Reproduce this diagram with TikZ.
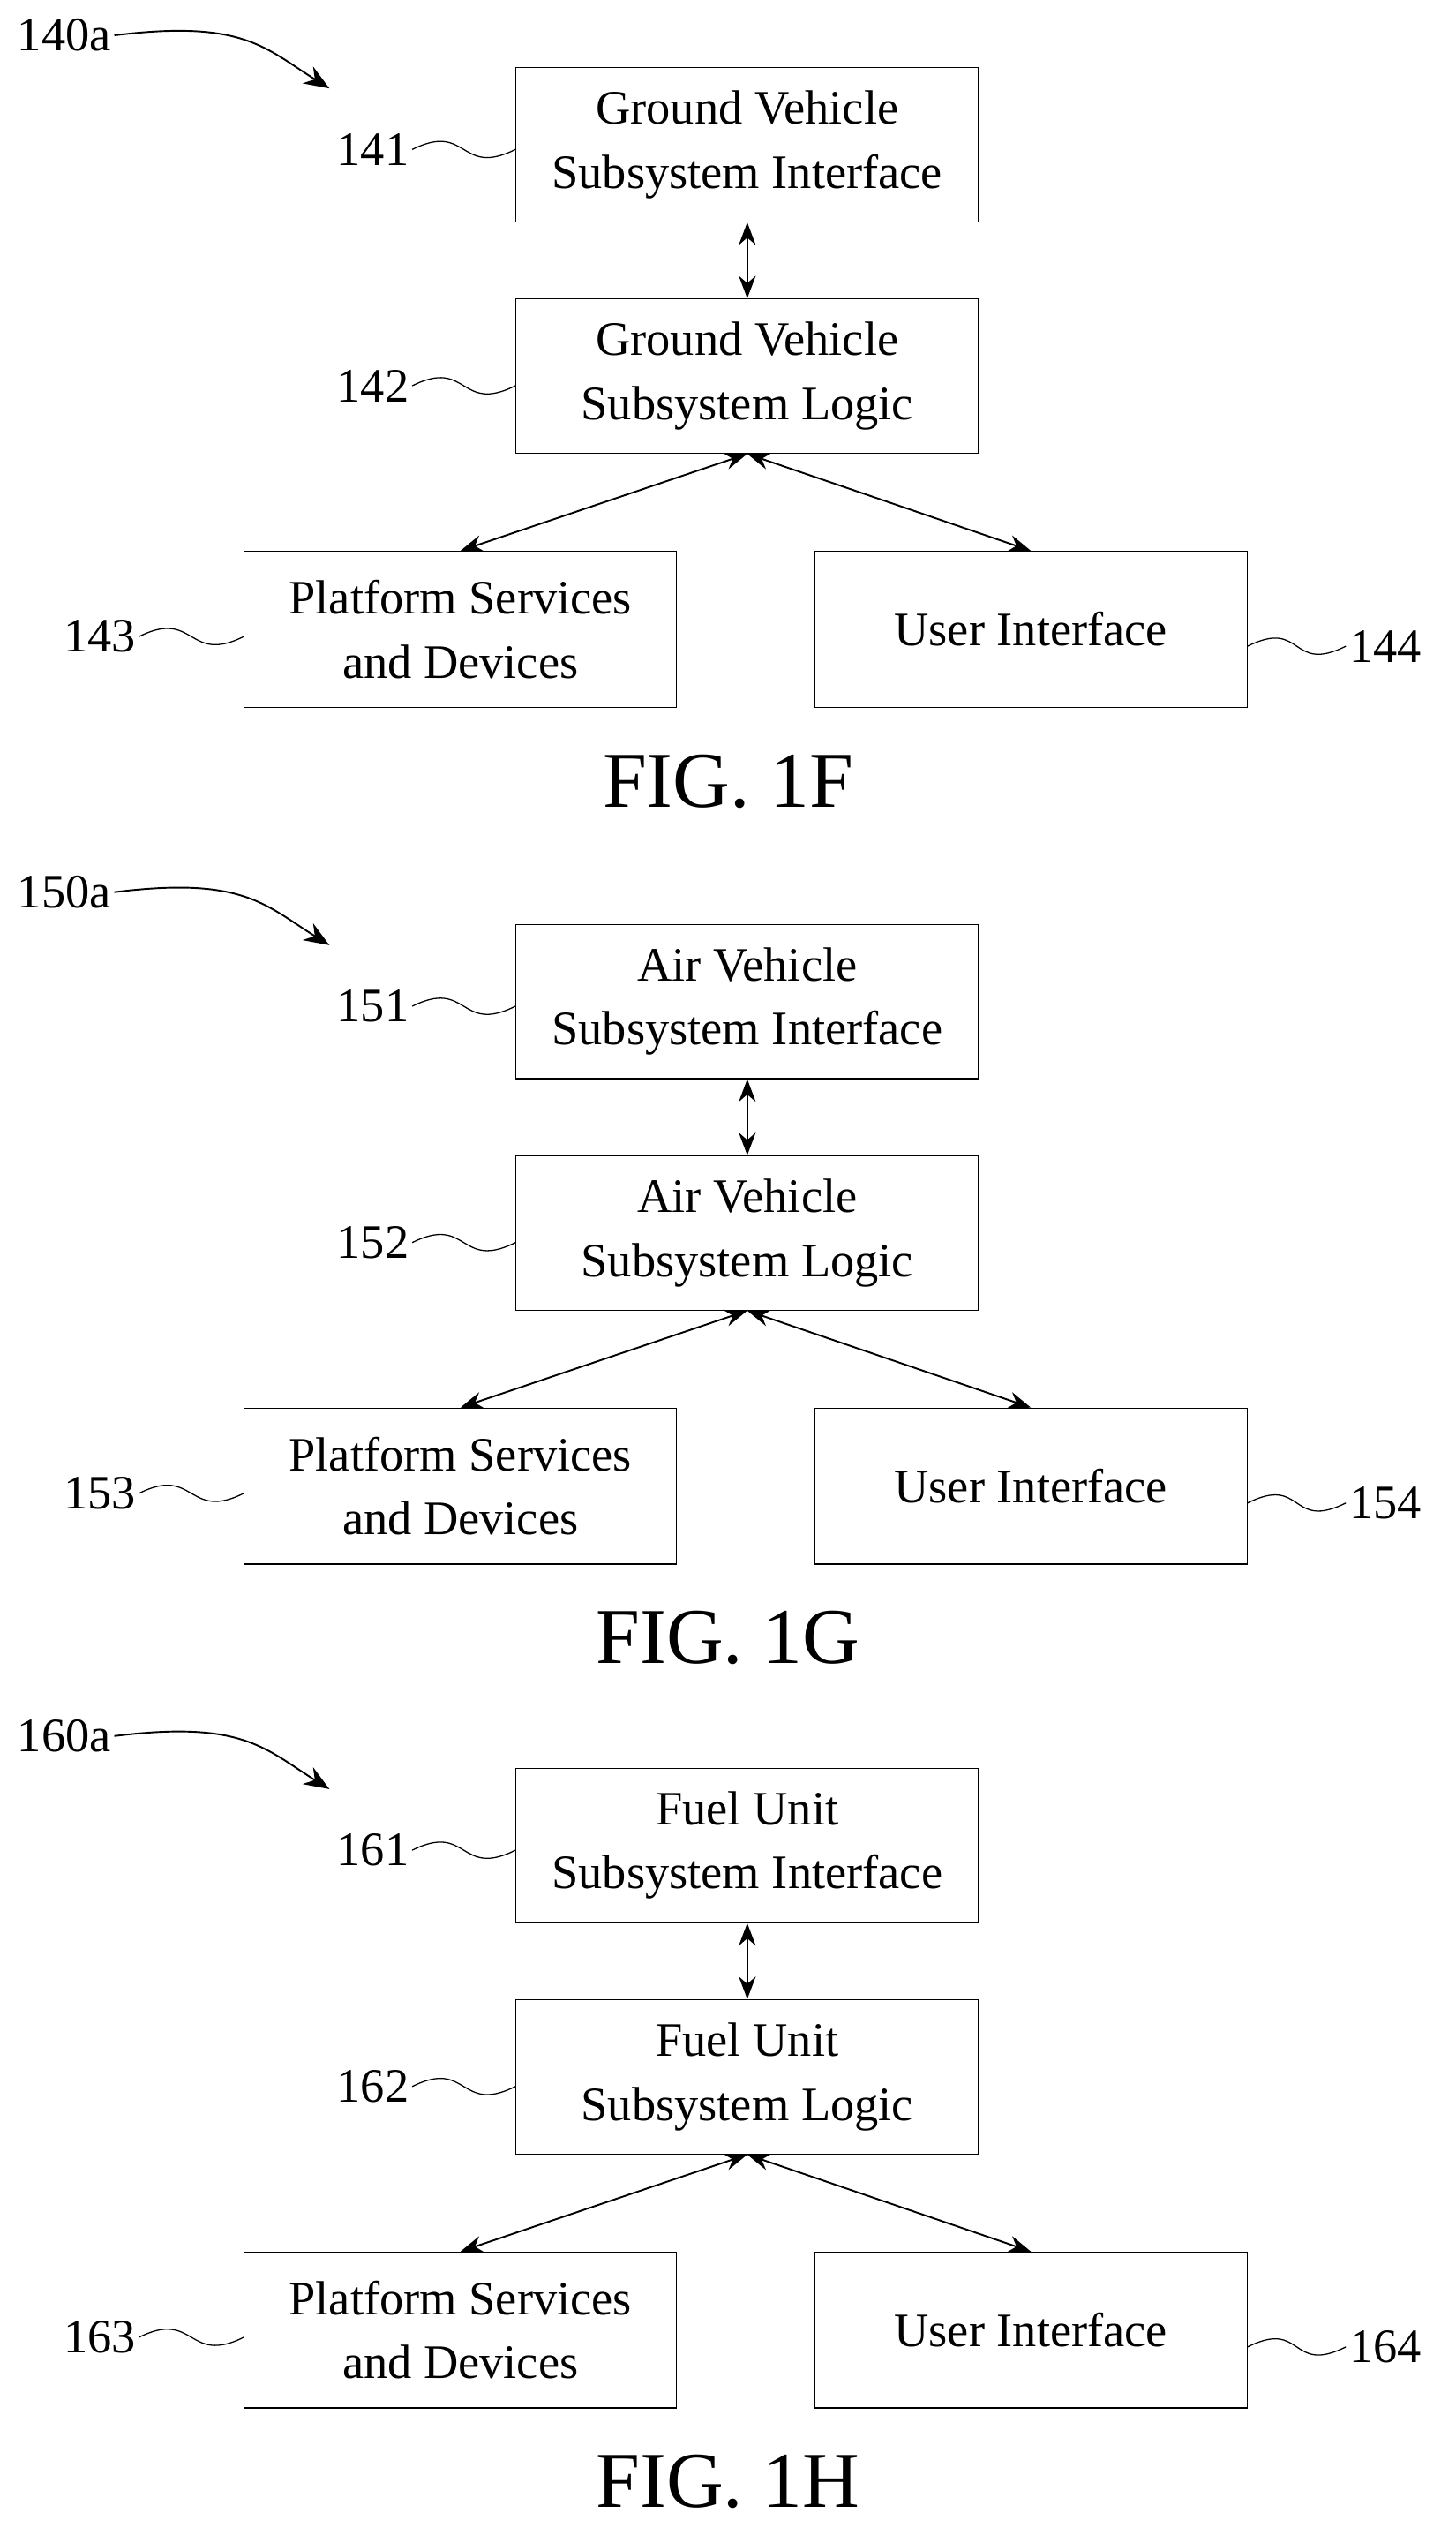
\documentclass[tikz,border=0pt]{standalone}
\usepackage{fontspec}
\setmainfont{Liberation Serif}
\usetikzlibrary{positioning,arrows.meta}

\tikzset{
    blk/.style={draw,thin,minimum width=5.76cm,minimum height=1.92cm,align=center,font=\fontsize{17}{22.7}\selectfont},
    sblk/.style={blk,minimum width=5.38cm,minimum height=1.94cm},
    lbl/.style={font=\fontsize{17}{20}\selectfont,inner sep=1pt},
    link/.style={semithick,{Stealth[length=8pt,width=6pt]}-{Stealth[length=8pt,width=6pt]}},
}

\begin{document}
\begin{tikzpicture}
    \useasboundingbox (0,0) rectangle (18.12,-31.64);
    \foreach \off/\n/\name/\f in {0/14/Ground Vehicle/F,-10.66/15/Air Vehicle/G,-21.16/16/Fuel Unit/H}{
        \begin{scope}[yshift=\off cm]
        \node [blk] (b\n1) at (9.3,-1.8) {\name\\Subsystem Interface};
        \node [blk] (b\n2) at (9.3,-4.68) {\name\\Subsystem Logic};
        \node [sblk] (b\n3) at (5.73,-7.83) {Platform Services\\and Devices};
        \node [sblk] (b\n4) at (12.83,-7.83) {User Interface};

        % reference numerals
        \node [lbl] (n\n0) at (0.8,-0.44) {\n0a};
        \node [lbl] (n\n1) at (4.64,-1.86) {\n1};
        \node [lbl] (n\n2) at (4.64,-4.8) {\n2};
        \node [lbl] (n\n3) at (1.24,-7.92) {\n3};
        \node [lbl] (n\n4) at (17.24,-8.04) {\n4};
        \coordinate (t\n0) at (4.1,-1.1);
        \node [font=\fontsize{28}{32}\selectfont] (fig\n) at (9.06,-9.72) {FIG. 1\f};

        \draw [link] (b\n1) -- (b\n2);
        \draw [link] (b\n2.south) -- (b\n3.north);
        \draw [link] (b\n2.south) -- (b\n4.north);

        \draw [semithick,-{Stealth[length=9pt,width=7pt]}] (n\n0.east) .. controls +(1.6,0.2) and +(-0.8,0.5) .. (t\n0);
        \draw (n\n1.east) .. controls +(0.7,0.35) and +(-0.7,-0.35) .. (b\n1.west |- n\n1);
        \draw (n\n2.east) .. controls +(0.7,0.35) and +(-0.7,-0.35) .. (b\n2.west |- n\n2);
        \draw (n\n3.east) .. controls +(0.7,0.35) and +(-0.7,-0.35) .. (b\n3.west |- n\n3);
        \draw (b\n4.east |- n\n4) .. controls +(0.7,0.35) and +(-0.7,-0.35) .. (n\n4.west);
        \end{scope}
    }
\end{tikzpicture}
\end{document}
